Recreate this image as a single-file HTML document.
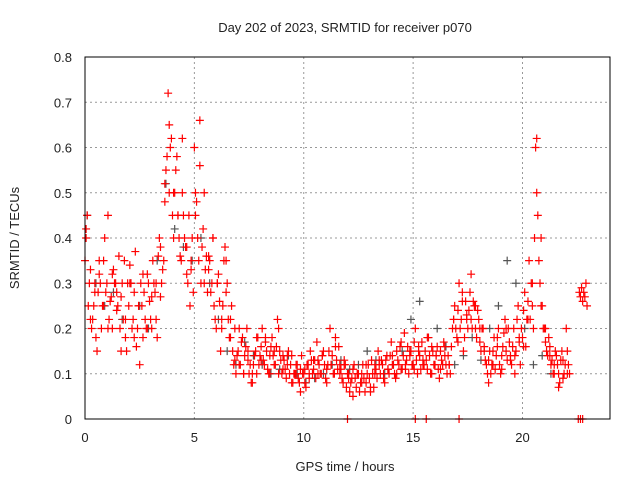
<!DOCTYPE html>
<html><head><meta charset="utf-8"><style>
body{margin:0;background:#fff;}
svg text{font-family:"Liberation Sans",sans-serif;font-size:13px;fill:#222;}
</style></head><body>
<svg id="chart" width="640" height="480" xmlns="http://www.w3.org/2000/svg">
<rect width="640" height="480" fill="#fff"/>
<g id="grid"></g>
<g id="marks"></g>
<rect x="85" y="57" width="525" height="362" fill="none" stroke="#000" stroke-width="1"/>
<g id="ticks"></g>
<text x="345" y="32" text-anchor="middle">Day 202 of 2023, SRMTID for receiver p070</text>
<text x="345" y="471" text-anchor="middle">GPS time / hours</text>
<text transform="translate(19,238) rotate(-90)" text-anchor="middle">SRMTID / TECUs</text>
</svg>
<script>
const xTicks=[0,5,10,15,20];
const yTicks=[0,0.1,0.2,0.3,0.4,0.5,0.6,0.7,0.8];
const yTickLabels=["0","0.1","0.2","0.3","0.4","0.5","0.6","0.7","0.8"];
const red1Start=0, red1Step=0.1;
const red1=[0.35,0.45,0.3,0.2,0.25,0.18,
0.28,0.3,0.25,0.4,0.3,0.22,0.27,0.33,0.3,0.25,
0.2,0.3,0.35,0.15,0.25,0.3,0.22,0.37,0.2,0.12,
0.25,0.28,0.2,0.3,0.22,0.35,0.28,0.18,0.4,0.3,
0.35,0.55,0.72,0.6,0.45,0.5,0.58,0.4,0.35,0.45,
0.38,0.3,0.25,0.4,0.6,0.48,0.35,0.3,0.42,0.33,
0.28,0.35,0.3,0.25,0.2,0.32,0.15,0.25,0.38,0.3,
0.18,0.25,0.12,0.1,0.15,0.12,0.18,0.14,0.2,0.1,
0.08,0.12,0.15,0.18,0.14,0.2,0.12,0.15,0.1,0.16,
0.14,0.12,0.22,0.15,0.1,0.13,0.09,0.15,0.12,0.08,
0.1,0.12,0.08,0.14,0.1,0.07,0.12,0.15,0.1,0.13,
0.17,0.12,0.1,0.15,0.09,0.12,0.2,0.14,0.1,0.13,
0.16,0.11,0.08,0.12,0.1,0.06,0.09,0.12,0.07,0.1,
0.08,0.12,0.06,0.1,0.09,0.13,0.07,0.11,0.15,0.1,
0.12,0.08,0.14,0.1,0.17,0.12,0.09,0.13,0.16,0.11,
0.19,0.13,0.1,0.15,0.12,0.2,0.1,0.14,0.17,0.12,
0.13,0.18,0.1,0.15,0.12,0.16,0.09,0.13,0.17,0.12,
0.14,0.1,0.2,0.25,0.18,0.3,0.22,0.15,0.26,0.2,
0.28,0.2,0.25,0.18,0.22,0.15,0.2,0.13,0.1,0.15,
0.12,0.18,0.14,0.2,0.1,0.16,0.22,0.13,0.17,0.12,
0.2,0.15,0.25,0.12,0.18,0.28,0.22,0.35,0.3,0.2,
0.6,0.45,0.3,0.25,0.2,0.15,0.18,0.12,0.1,0.15,
0.12,0.08,0.15,0.1,0.2,0.12];
const red2Start=0.05, red2Step=0.2;
const red2=[0.4,0.22,0.3,0.35,0.25,0.2,0.32,0.28,0.15,0.22,
0.3,0.18,0.25,0.32,0.2,0.27,0.3,0.38,0.52,0.65,
0.5,0.45,0.62,0.38,0.33,0.45,0.66,0.5,0.36,0.4,
0.3,0.22,0.35,0.18,0.13,0.2,0.1,0.15,0.08,0.1,
0.13,0.18,0.1,0.15,0.2,0.11,0.14,0.08,0.1,0.06,
0.11,0.09,0.13,0.1,0.14,0.08,0.12,0.18,0.1,0.12,
0.09,0.05,0.1,0.08,0.12,0.06,0.1,0.13,0.09,0.11,
0.14,0.1,0.17,0.12,0.15,0.11,0.16,0.12,0.18,0.1,
0.14,0.11,0.16,0.12,0.22,0.17,0.28,0.23,0.32,0.25,
0.2,0.15,0.08,0.12,0.16,0.11,0.2,0.14,0.1,0.18,
0.16,0.22,0.3,0.62,0.4,0.2,0.14,0.1,0.07,0.13,
0.1];
const red3Start=0.05, red3Step=0.1;
const red3=[0.42,0.25,0.33,0.22,0.28,0.15,
0.32,0.2,0.35,0.28,0.45,0.26,0.2,0.3,0.24,0.36,
0.27,0.22,0.18,0.3,0.34,0.2,0.28,0.16,0.25,0.3,
0.18,0.22,0.32,0.26,0.2,0.3,0.22,0.36,0.27,0.33,
0.48,0.58,0.5,0.62,0.4,0.55,0.45,0.36,0.5,0.4,
0.32,0.45,0.35,0.28,0.5,0.4,0.56,0.38,0.3,0.36,
0.33,0.28,0.4,0.22,0.3,0.26,0.2,0.35,0.28,0.22,
0.22,0.15,0.2,0.14,0.12,0.17,0.1,0.16,0.13,0.12,
0.1,0.14,0.18,0.12,0.16,0.13,0.17,0.11,0.14,0.18,
0.12,0.16,0.1,0.13,0.14,0.11,0.12,0.1,0.14,0.1,
0.12,0.09,0.11,0.1,0.08,0.12,0.1,0.13,0.11,0.09,
0.13,0.1,0.14,0.12,0.11,0.15,0.12,0.1,0.16,0.11,
0.12,0.09,0.13,0.07,0.1,0.08,0.11,0.09,0.1,0.06,
0.1,0.09,0.08,0.12,0.07,0.1,0.12,0.09,0.12,0.13,
0.1,0.13,0.11,0.14,0.12,0.1,0.15,0.12,0.11,0.14,
0.11,0.16,0.14,0.12,0.17,0.13,0.15,0.11,0.13,0.15,
0.11,0.14,0.16,0.12,0.14,0.11,0.15,0.12,0.14,0.1,
0.12,0.16,0.22,0.2,0.24,0.2,0.26,0.18,0.22,0.24,
0.22,0.26,0.2,0.24,0.17,0.2,0.16,0.12,0.13,0.1,
0.15,0.11,0.18,0.12,0.14,0.19,0.15,0.2,0.13,0.16,
0.14,0.22,0.17,0.2,0.24,0.16,0.26,0.22,0.25,0.4,
0.5,0.35,0.25,0.2,0.17,0.14,0.16,0.13,0.12,0.14,
0.1,0.13,0.09,0.12,0.15,0.1];
const grayStart=0.1, grayStep=0.4;
const gray=[0.45,0.3,0.25,0.28,0.22,0.3,0.25,0.2,0.35,0.52,0.42,0.38,0.35,0.4,0.3,0.22,0.15,0.12,0.17,0.14,0.12,0.1,0.11,0.14,0.1,0.08,0.09,0.1,0.12,0.13,0.11,0.12,0.15,0.13,0.1,0.12,0.15,0.22,0.26,0.18,0.2,0.16,0.12,0.14,0.18,0.13,0.2,0.25,0.35,0.3,0.2,0.12,0.14,0.1];
const endTimes=[22.6,22.65,22.7,22.75,22.8,22.85,22.9,22.95];
const endValues=[0.28,0.27,0.29,0.26,0.28,0.27,0.3,0.25];
const zeroTimes=[12.0,15.1,15.6,17.1,22.55,22.65,22.75];

const X=t=>85+t*(525/24);
const Y=v=>419-v*(362/0.8);
const NS="http://www.w3.org/2000/svg";
function el(tag,attrs,parent){const e=document.createElementNS(NS,tag);for(const k in attrs)e.setAttribute(k,attrs[k]);parent.appendChild(e);return e;}
const grid=document.getElementById('grid'),ticks=document.getElementById('ticks'),marks=document.getElementById('marks');
xTicks.forEach(t=>{
  if(t>0){const g=el('line',{x1:X(t),x2:X(t),y1:57,y2:419,stroke:'#999','stroke-dasharray':'2,3'},grid);
  
  }
  const tl=el('text',{x:X(t),y:442,'text-anchor':'middle'},ticks);tl.textContent=t;
  
  
});
yTicks.forEach((v,i)=>{
  if(v>0&&v<0.8){const g=el('line',{x1:85,x2:610,y1:Y(v),y2:Y(v),stroke:'#999','stroke-dasharray':'2,3'},grid);
  
  }
  const tl=el('text',{x:72,y:Y(v)+5,'text-anchor':'end'},ticks);tl.textContent=yTickLabels[i];
  
  
});
function plus(t,v,color,name){
  const x=X(t),y=Y(v);
  const p=el('path',{d:`M${x-4},${y}H${x+4}M${x},${y-4}V${y+4}`,stroke:color,'stroke-width':1.2,fill:'none'},marks);
  
  
}
gray.forEach((v,i)=>plus(grayStart+i*grayStep,v,'#555','gray-point'));
red1.forEach((v,i)=>plus(red1Start+i*red1Step,v,'#f00','red-point'));
red2.forEach((v,i)=>plus(red2Start+i*red2Step,v,'#f00','red-point'));
red3.forEach((v,i)=>plus(red3Start+i*red3Step,v,'#f00','red-point'));
endValues.forEach((v,i)=>plus(endTimes[i],v,'#f00','red-point'));
zeroTimes.forEach(t=>plus(t,0,'#f00','zero-point'));
</script>
</body></html>
